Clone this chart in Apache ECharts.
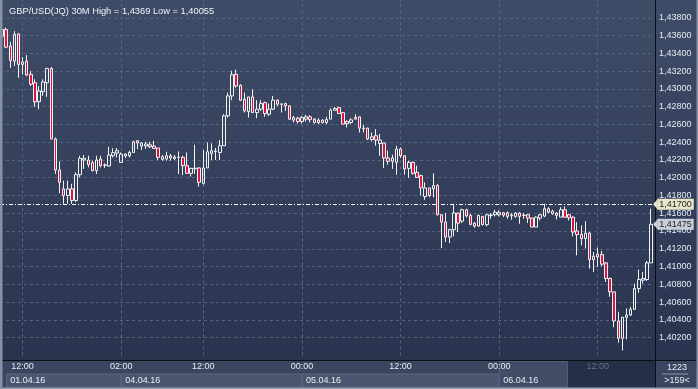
<!DOCTYPE html>
<html><head><meta charset="utf-8">
<style>html,body{margin:0;padding:0;background:#2f3a55;overflow:hidden}#c{width:698px;height:389px}</style>
<script src="https://cdn.jsdelivr.net/npm/echarts@6/dist/echarts.min.js"></script>
</head><body><div id="c"></div><script>
const halfHours = ['00:00','00:30','01:00','01:30','02:00','02:30','03:00','03:30','04:00','04:30','05:00','05:30',
'06:00','06:30','07:00','07:30','08:00','08:30','09:00','09:30','10:00','10:30','11:00','11:30',
'12:00','12:30','13:00','13:30','14:00','14:30','15:00','15:30','16:00','16:30','17:00','17:30',
'18:00','18:30','19:00','19:30','20:00','20:30','21:00','21:30','22:00','22:30','23:00','23:30'];
const categories = [].concat(
  halfHours.slice(19,44).map(t=>'01.04 '+t),
  halfHours.map(t=>'04.04 '+t),
  halfHours.map(t=>'05.04 '+t),
  halfHours.slice(0,38).map(t=>'06.04 '+t));

const open = [1.43593,1.43668,1.43481,1.43312,1.43618,1.43275,1.43312,1.43163,1.43069,1.42856,
1.42968,1.43069,1.43230,1.42435,1.42087,1.41874,1.41799,1.41874,1.41743,1.42034,
1.42199,1.42199,1.42169,1.42079,1.42210,1.42143,1.42132,1.42247,1.42278,1.42172,
1.42244,1.42247,1.42284,1.42416,1.42356,1.42356,1.42348,1.42356,1.42334,1.42206,
1.42210,1.42247,1.42214,1.42231,1.42229,1.42135,1.42049,1.42102,1.42110,1.41937,
1.42110,1.42273,1.42296,1.42284,1.42360,1.42696,1.42920,1.43163,1.43040,1.42883,
1.42744,1.42909,1.42733,1.42771,1.42845,1.42715,1.42771,1.42872,1.42830,1.42834,
1.42808,1.42648,1.42670,1.42632,1.42659,1.42685,1.42659,1.42621,1.42648,1.42621,
1.42659,1.42760,1.42789,1.42733,1.42609,1.42621,1.42677,1.42685,1.42558,1.42558,
1.42430,1.42472,1.42385,1.42390,1.42222,1.42184,1.42172,1.42323,1.42247,1.42105,
1.42172,1.42060,1.42023,1.41788,1.41885,1.41874,1.41911,1.41583,1.41500,1.41332,
1.41415,1.41601,1.41511,1.41639,1.41575,1.41489,1.41455,1.41564,1.41471,1.41575,
1.41583,1.41583,1.41605,1.41605,1.41571,1.41564,1.41601,1.41575,1.41583,1.41545,
1.41444,1.41545,1.41567,1.41650,1.41594,1.41601,1.41556,1.41639,1.41583,1.41556,
1.41400,1.41362,1.41314,1.41376,1.41078,1.41107,1.41134,1.41041,1.40865,1.40715,
1.40387,1.40193,1.40428,1.40454,1.40518,1.40753,1.40846,1.40854,1.41041];
const close = [1.43668,1.43469,1.43320,1.43612,1.43275,1.43301,1.43155,1.43051,1.42853,1.42976,
1.43077,1.43230,1.42435,1.42087,1.41948,1.41799,1.41874,1.41743,1.42034,1.42217,
1.42217,1.42147,1.42079,1.42199,1.42135,1.42139,1.42255,1.42281,1.42304,1.42266,
1.42266,1.42284,1.42404,1.42390,1.42390,1.42379,1.42370,1.42329,1.42229,1.42236,
1.42247,1.42222,1.42233,1.42229,1.42135,1.42049,1.42105,1.42107,1.41948,1.42110,
1.42292,1.42304,1.42300,1.42360,1.42696,1.42920,1.43159,1.43032,1.42872,1.42752,
1.42909,1.42733,1.42771,1.42834,1.42722,1.42771,1.42872,1.42827,1.42827,1.42808,
1.42659,1.42677,1.42632,1.42677,1.42685,1.42654,1.42621,1.42648,1.42621,1.42654,
1.42760,1.42778,1.42722,1.42603,1.42632,1.42651,1.42659,1.42558,1.42552,1.42435,
1.42460,1.42423,1.42423,1.42222,1.42184,1.42222,1.42323,1.42247,1.42098,1.42172,
1.42049,1.42004,1.41885,1.41885,1.41799,1.41911,1.41583,1.41500,1.41332,1.41415,
1.41603,1.41489,1.41639,1.41569,1.41474,1.41455,1.41575,1.41471,1.41583,1.41580,
1.41612,1.41609,1.41578,1.41564,1.41580,1.41601,1.41564,1.41578,1.41545,1.41444,
1.41556,1.41583,1.41650,1.41612,1.41623,1.41575,1.41639,1.41556,1.41549,1.41388,
1.41359,1.41314,1.41376,1.41078,1.41115,1.41138,1.41026,1.40865,1.40715,1.40387,
1.40193,1.40428,1.40454,1.40518,1.40753,1.40854,1.40865,1.41041,1.41475];
const low = [1.43581,1.43461,1.43237,1.43256,1.43125,1.43163,1.43144,1.43032,1.42797,1.42771,
1.42920,1.42909,1.42435,1.42042,1.41825,1.41706,1.41706,1.41706,1.41724,1.42004,
1.42098,1.42116,1.42071,1.42042,1.42116,1.42110,1.42124,1.42228,1.42228,1.42172,
1.42222,1.42228,1.42284,1.42323,1.42311,1.42323,1.42334,1.42323,1.42199,1.42191,
1.42191,1.42191,1.42199,1.42042,1.42030,1.42042,1.42012,1.42042,1.41900,1.41922,
1.42110,1.42199,1.42199,1.42199,1.42360,1.42677,1.42872,1.43013,1.42864,1.42733,
1.42677,1.42733,1.42670,1.42752,1.42685,1.42696,1.42760,1.42808,1.42733,1.42752,
1.42648,1.42621,1.42610,1.42610,1.42632,1.42621,1.42610,1.42603,1.42610,1.42603,
1.42659,1.42752,1.42722,1.42601,1.42565,1.42603,1.42659,1.42509,1.42509,1.42423,
1.42408,1.42360,1.42247,1.42110,1.42147,1.42098,1.42034,1.42222,1.42034,1.41997,
1.42034,1.41997,1.41799,1.41751,1.41780,1.41780,1.41575,1.41207,1.41276,1.41264,
1.41339,1.41388,1.41489,1.41552,1.41463,1.41437,1.41452,1.41463,1.41452,1.41538,
1.41564,1.41564,1.41556,1.41538,1.41527,1.41549,1.41482,1.41538,1.41489,1.41444,
1.41444,1.41519,1.41556,1.41601,1.41583,1.41530,1.41556,1.41556,1.41519,1.41339,
1.41126,1.41238,1.41202,1.40977,1.40939,1.40995,1.41003,1.40827,1.40659,1.40316,
1.40143,1.40055,1.40181,1.40443,1.40518,1.40704,1.40809,1.40838,1.41041];
const high = [1.43677,1.43690,1.43529,1.43649,1.43626,1.43357,1.43380,1.43200,1.43107,1.43032,
1.43107,1.43237,1.43245,1.42453,1.42184,1.41967,1.41967,1.41930,1.42060,1.42247,
1.42255,1.42247,1.42191,1.42247,1.42247,1.42161,1.42348,1.42332,1.42334,1.42284,
1.42273,1.42304,1.42416,1.42423,1.42401,1.42404,1.42404,1.42416,1.42334,1.42255,
1.42292,1.42266,1.42255,1.42296,1.42247,1.42284,1.42110,1.42371,1.42116,1.42311,
1.42397,1.42385,1.42334,1.42423,1.42715,1.42957,1.43204,1.43217,1.43051,1.42957,
1.42909,1.42995,1.42872,1.42872,1.42856,1.42834,1.42920,1.42883,1.42834,1.42845,
1.42816,1.42696,1.42685,1.42696,1.42707,1.42704,1.42670,1.42670,1.42659,1.42685,
1.42778,1.42797,1.42797,1.42733,1.42648,1.42670,1.42715,1.42690,1.42595,1.42565,
1.42509,1.42547,1.42491,1.42390,1.42304,1.42259,1.42360,1.42341,1.42247,1.42191,
1.42184,1.42135,1.42034,1.41948,1.41885,1.42049,1.41930,1.41592,1.41600,1.41426,
1.41706,1.41608,1.41650,1.41650,1.41594,1.41500,1.41586,1.41564,1.41594,1.41601,
1.41639,1.41631,1.41612,1.41620,1.41601,1.41612,1.41612,1.41601,1.41594,1.41549,
1.41564,1.41594,1.41706,1.41668,1.41639,1.41612,1.41668,1.41676,1.41594,1.41564,
1.41500,1.41463,1.41511,1.41388,1.41163,1.41213,1.41175,1.41052,1.40877,1.40715,
1.40491,1.40435,1.40529,1.40547,1.40809,1.40966,1.40939,1.41063,1.41650];

const timeTicks = ['01.04 12:00','04.04 02:00','04.04 12:00','05.04 00:00','05.04 12:00','06.04 00:00','06.04 12:00'];
const dimTick = '06.04 12:00';
const dateLabels = [['01.04 10:00','01.04.16'],['04.04 02:00','04.04.16'],['05.04 00:00','05.04.16'],['06.04 00:00','06.04.16']];
const futureStart = '06.04 08:30';
const refLevel = 1.417;
const lastPrice = 1.41475;
const titleText = 'GBP/USD(JQ) 30M High = 1,4369 Low = 1,40055';
const cornerTop = '1223', cornerBottom = '>159<';
const yMin = 1.400, yMax = 1.440, yStep = 0.002;

const FONT = 'Liberation Sans';
const fmt = v => v.toFixed(5).replace('.', ',');
const data = open.map((o,i)=>[o, close[i], low[i], high[i]]);

const chart = echarts.init(document.getElementById('c'), null, {renderer:'canvas'});
const option = {
  animation: false,
  backgroundColor: {type:'linear', x:0, y:0, x2:0, y2:1, colorStops:[{offset:0,color:'#3f4c68'},{offset:1,color:'#27324d'}]},
  title: {text: titleText, left: 4, top: 2, textStyle:{color:'#eef2f8', fontSize:9.3, fontWeight:'normal', fontFamily:FONT}},
  grid: {left: 0, top: -1.33, width: 653.2, height: 356.7},
  xAxis: {
    type:'category', data: categories, boundaryGap: true, offset: 5, z: 70,
    axisLine:{show:false}, axisTick:{show:false}, splitLine:{show:false},
    axisLabel:{
      margin: 2, color:'#e8edf5', fontSize:9, fontFamily:FONT,
      interval: (i, v) => timeTicks.indexOf(v) >= 0,
      formatter: v => v === dimTick ? '{d|' + v.slice(6) + '}' : v.slice(6),
      rich: {d:{color:'#67738c', fontSize:9, fontFamily:FONT}}
    }
  },
  yAxis: {
    type:'value', position:'right', min: yMin, max: yMax, interval: yStep, offset: 2.3, scale: true,
    axisLine:{show:false}, axisTick:{show:false},
    splitLine:{show:true, showMinLine:false, showMaxLine:false, lineStyle:{color:'#56647f', type:[3,3], width:1}},
    axisLabel:{margin: 3.5, color:'#e6ebf4', fontSize:9, fontFamily:FONT,
      showMinLabel:false, showMaxLabel:false,
      formatter: v => (v < 1.4015 || v > 1.4385) ? '' : fmt(v)}
  },
  series: [{
    type:'candlestick', data: data, barWidth: 3, clip: false, z: 2,
    itemStyle:{color:'rgba(0,0,0,0)', color0:'#dc1340', borderColor:'#f2f2f2', borderColor0:'#f2f2f2', borderColorDoji:'#f2f2f2', borderWidth:1},
    emphasis:{disabled:true},
    markLine:{
      silent:true, symbol:['none','none'], z: 1, animation:false, precision: 6,
      data: timeTicks.map(t => ({xAxis: t, lineStyle:{color:'#58667f', type:[3,3], width:1}, label:{show:false}})).concat([
        {yAxis: refLevel, lineStyle:{color:'#ffffff', type:[4,2,1,2], width:1},
          label:{show:true, position:'end', distance:4, formatter: fmt(refLevel), color:'#1a1a1a', fontSize:9, fontFamily:FONT,
            backgroundColor:'#e9e5c8', padding:[1,2,1,2]}},
        {yAxis: lastPrice, lineStyle:{color:'rgba(0,0,0,0)', width:1},
          label:{show:true, position:'end', distance:4, formatter: fmt(lastPrice), color:'#1a1a1a', fontSize:9, fontFamily:FONT,
            backgroundColor:'#c9ced8', padding:[1,2,1,2]}}
      ])
    }
  }]
};
chart.setOption(option);

const X = c => chart.convertToPixel({xAxisIndex:0}, categories.indexOf(c));
const Y = v => chart.convertToPixel({yAxisIndex:0}, v);
const axisY = 360.5, rowTop = 361, rowMid = 373.5, rowBot = 387.5, splitX = 655.5;
const xs = dateLabels.map(d => X(d[0]));
const xFuture = X(futureStart) - 1;
const g = [];
g.push({type:'rect', z:50, shape:{x:0, y:rowTop, width:698, height:rowBot-rowTop}, style:{fill:'#3a4660'}, silent:true});
for (let i=0;i<3;i++) {
  g.push({type:'rect', z:51, shape:{x:xs[i]+0.5, y:rowMid+0.5, width:xs[i+1]-xs[i]-1, height:rowBot-rowMid-1}, style:{fill:'#4a566f', stroke:'#5a6680', lineWidth:1}, silent:true});
}
g.push({type:'rect', z:51, shape:{x:xs[3]+0.5, y:rowTop+0.5, width:xFuture-xs[3]-1, height:rowBot-rowTop-1}, style:{fill:'#414d67', stroke:'#53607a', lineWidth:1}, silent:true});
g.push({type:'rect', z:51, shape:{x:xFuture, y:rowTop, width:splitX-xFuture, height:rowBot-rowTop}, style:{fill:'#252f47'}, silent:true});
dateLabels.forEach((d,i) => g.push({type:'text', z:60, x: xs[i]+4, y: 380.5, style:{text:d[1], fill:'#e8edf5', font:'9px "'+FONT+'"', textVerticalAlign:'middle'}, silent:true}));
g.push({type:'line', z:61, shape:{x1:0, y1:axisY, x2:698, y2:axisY}, style:{stroke:'#0b0e14', lineWidth:1}, silent:true});
g.push({type:'line', z:61, shape:{x1:splitX, y1:0, x2:splitX, y2:rowBot}, style:{stroke:'#0b0e14', lineWidth:1}, silent:true});
g.push({type:'text', z:60, x: 677, y: 367.5, style:{text:cornerTop, fill:'#e6ebf4', font:'9px "'+FONT+'"', textAlign:'center', textVerticalAlign:'middle'}, silent:true});
g.push({type:'line', z:60, shape:{x1:662, y1:374, x2:688, y2:374}, style:{stroke:'#8b95a8', lineWidth:1}, silent:true});
g.push({type:'text', z:60, x: 677, y: 380.5, style:{text:cornerBottom, fill:'#e6ebf4', font:'9px "'+FONT+'"', textAlign:'center', textVerticalAlign:'middle'}, silent:true});
g.push({type:'rect', z:62, shape:{x:0, y:rowBot, width:698, height:389-rowBot}, style:{fill:'#9da6b5'}, silent:true});
g.push({type:'rect', z:62, shape:{x:0, y:0, width:2.5, height:389}, style:{fill:'#8591a5'}, silent:true});
g.push({type:'rect', z:62, shape:{x:696.5, y:0, width:1.5, height:389}, style:{fill:'#8591a5'}, silent:true});
[refLevel, lastPrice].forEach((v,i) => {
  const yy = Y(v);
  g.push({type:'polygon', z:62, shape:{points:[[653.2, yy],[657.5, yy-5],[657.5, yy+5]]}, style:{fill: i===0 ? '#e9e5c8' : '#c9ced8'}, silent:true});
});
chart.setOption({graphic: g});
</script></body></html>
